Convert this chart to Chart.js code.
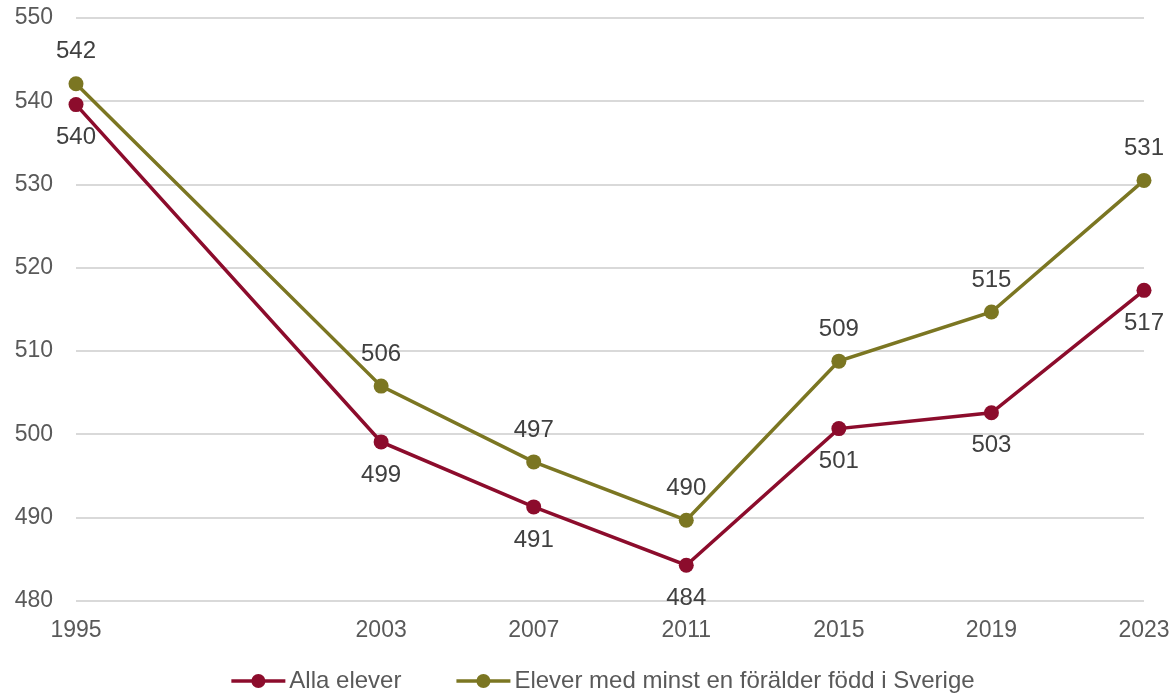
<!DOCTYPE html>
<html>
<head>
<meta charset="utf-8">
<script src="https://cdn.jsdelivr.net/npm/chart.js@4/dist/chart.umd.min.js"></script>
<style>
  body { margin: 0; background: #fff; }
</style>
</head>
<body>
<canvas id="chart" width="1174" height="695"></canvas>
<script>
var years = [1995, 2003, 2007, 2011, 2015, 2019, 2023];
var allaElever = [539.6, 499.1, 491.3, 484.3, 500.7, 502.6, 517.3];
var svenskFodd = [542.1, 505.8, 496.7, 489.7, 508.8, 514.7, 530.5];
var seriesNames = ['Alla elever', 'Elever med minst en förälder född i Sverige'];
var colors = ['#8c0c2c', '#7b7622'];

var font = 'Arial, "Liberation Sans", sans-serif';
var textColor = '#595959';

function toPoints(vals) {
  return vals.map(function(v, i) { return { x: years[i], y: v }; });
}

// value labels: below for the first series, above for the second
var valueLabels = {
  id: 'valueLabels',
  afterDatasetsDraw: function(chart) {
    var ctx = chart.ctx;
    ctx.save();
    ctx.font = '24px ' + font;
    ctx.fillStyle = '#404040';
    ctx.textAlign = 'center';
    ctx.textBaseline = 'middle';
    chart.data.datasets.forEach(function(ds, di) {
      var meta = chart.getDatasetMeta(di);
      var off = di === 0 ? 33 : -32;
      meta.data.forEach(function(p, i) {
        ctx.fillText(Math.round(ds.data[i].y), p.x, p.y + off);
      });
    });
    ctx.restore();
  }
};

// legend drawn by hand: line with a dot, then the text
var lineLegend = {
  id: 'lineLegend',
  afterDraw: function(chart) {
    var ctx = chart.ctx;
    var y = 681, lineW = 54, gapText = 4, gapItem = 55;
    ctx.save();
    ctx.font = '24px ' + font;
    var widths = chart.data.datasets.map(function(ds) { return ctx.measureText(ds.label).width; });
    var total = 0;
    widths.forEach(function(w, i) { total += lineW + gapText + w + (i ? gapItem : 0); });
    var x = 603 - total / 2;
    chart.data.datasets.forEach(function(ds, i) {
      ctx.strokeStyle = ds.borderColor;
      ctx.lineWidth = 3.5;
      ctx.beginPath(); ctx.moveTo(x, y); ctx.lineTo(x + lineW, y); ctx.stroke();
      ctx.fillStyle = ds.borderColor;
      ctx.beginPath(); ctx.arc(x + lineW / 2, y, 7, 0, Math.PI * 2); ctx.fill();
      ctx.fillStyle = textColor;
      ctx.textAlign = 'left';
      ctx.textBaseline = 'middle';
      ctx.fillText(ds.label, x + lineW + gapText, y);
      x += lineW + gapText + widths[i] + gapItem;
    });
    ctx.restore();
  }
};

function dataset(i, vals) {
  return {
    label: seriesNames[i],
    data: toPoints(vals),
    borderColor: colors[i],
    backgroundColor: colors[i],
    borderWidth: 3.5,
    pointRadius: 7.5,
    pointHoverRadius: 7.5,
    pointBackgroundColor: colors[i],
    pointBorderWidth: 0,
    clip: false
  };
}

new Chart(document.getElementById('chart'), {
  type: 'line',
  data: {
    datasets: [dataset(0, allaElever), dataset(1, svenskFodd)]
  },
  options: {
    responsive: false,
    animation: false,
    layout: { padding: { top: 18, right: 30, left: 0, bottom: 52 } },
    scales: {
      x: {
        type: 'linear',
        min: 1995,
        max: 2023,
        afterBuildTicks: function(axis) {
          axis.ticks = years.map(function(y) { return { value: y }; });
        },
        afterFit: function(axis) {
          axis.height = 42;
          axis.paddingLeft = 0;
          axis.paddingRight = 0;
        },
        grid: { display: false },
        border: { display: false },
        ticks: {
          color: textColor,
          font: { size: 23, family: font },
          padding: 8,
          maxRotation: 0,
          autoSkip: false,
          callback: function(v) { return String(v); }
        }
      },
      y: {
        min: 480,
        max: 550,
        afterFit: function(axis) {
          axis.width = 76;
          axis.paddingTop = 0;
          axis.paddingBottom = 0;
        },
        grid: { color: '#d9d9d9', lineWidth: 2, drawTicks: false },
        border: { display: false },
        ticks: {
          stepSize: 10,
          color: textColor,
          font: { size: 23, family: font },
          padding: 23
        }
      }
    },
    plugins: {
      tooltip: { enabled: false },
      legend: { display: false }
    }
  },
  plugins: [valueLabels, lineLegend]
});
</script>
</body>
</html>
